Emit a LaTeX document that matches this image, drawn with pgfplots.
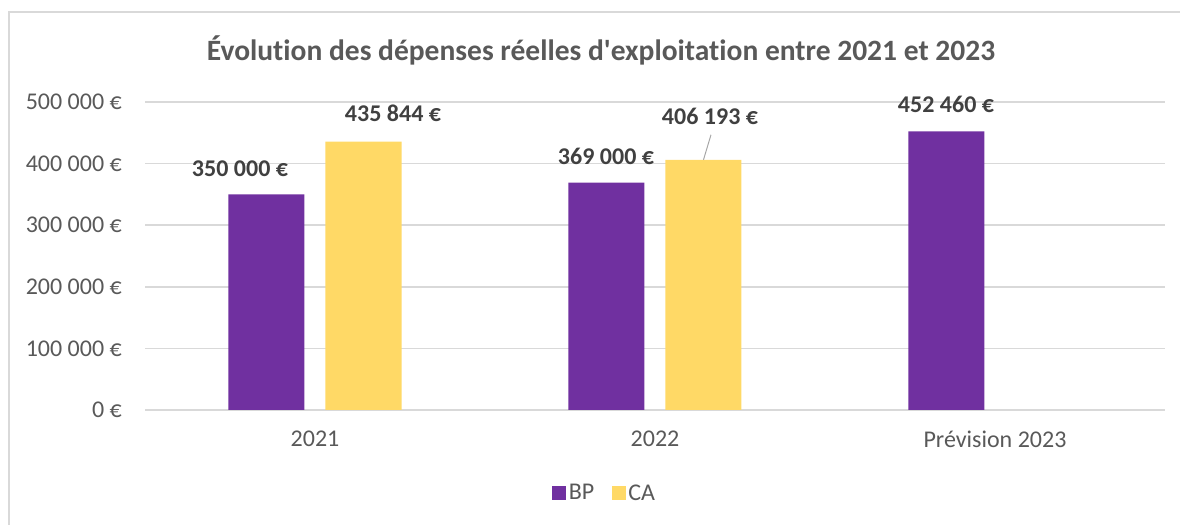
\documentclass[border=0pt]{standalone}
\usepackage{pgfplots}
\pgfplotsset{compat=1.18}
\usepackage{fontspec}
\setmainfont{Carlito}[Ligatures={NoCommon}]

\definecolor{bpcol}{HTML}{7030A0}
\definecolor{cacol}{HTML}{FFD966}
\definecolor{txtcol}{HTML}{595959}
\definecolor{lblcol}{HTML}{404040}
\definecolor{gridcol}{HTML}{D9D9D9}

\begin{document}
\begin{tikzpicture}[x=1bp, y=1bp,
  dl/.style={text=lblcol, font=\bfseries\fontsize{24bp}{29bp}\selectfont, inner sep=0pt, anchor=center}]
\path[use as bounding box] (0,0) rectangle (1180,525);
\draw[gridcol, line width=1.5bp] (9,0) -- (9,513) -- (1180,513);
\node[text=txtcol, font=\bfseries\fontsize{29.5bp}{34bp}\selectfont] at (601,475)
  {Évolution des dépenses réelles d\textquotesingle exploitation entre 2021 et 2023};

\begin{axis}[
  at={(145bp,115bp)}, anchor=south west,
  scale only axis, width=1020bp, height=308bp,
  xmin=-0.5, xmax=2.5, ymin=0, ymax=500000,
  ybar, bar width=76bp,
  axis line style={draw=none},
  major tick length=0pt,
  xtick={0,1,2}, xticklabels={2021,2022,Prévision 2023},
  ytick={0,100000,200000,300000,400000,500000},
  yticklabels={0 €,100 000 €,200 000 €,300 000 €,400 000 €,500 000 €},
  scaled y ticks=false,
  ymajorgrids, grid style={gridcol, line width=1.5bp},
  tick label style={text=txtcol, font=\fontsize{24bp}{29bp}\selectfont},
  yticklabel style={anchor=east, inner sep=0pt, xshift=-23bp},
  xticklabel style={anchor=north, inner sep=0pt, yshift=-21bp},
  legend columns=2,
  legend style={at={(0.5,0)}, anchor=center, xshift=-50bp, yshift=-83bp, draw=none, fill=none,
    text=txtcol, font=\fontsize{24bp}{29bp}\selectfont,
    nodes={inner sep=2.5bp},
    /tikz/every even column/.append style={column sep=15bp}},
  legend image code/.code={\path[#1] (0bp,-7bp) rectangle (14bp,7bp);},
  clip=false,
]
\addplot[fill=bpcol, draw=none, bar shift=-48.5bp] coordinates {(0,350000) (1,369000) (2,452460)};
\addlegendentry{BP}
\addplot[fill=cacol, draw=none, bar shift=48.5bp] coordinates {(0,435844) (1,406193)};
\addlegendentry{CA}

\node[dl] at ([xshift=-75bp, yshift=26bp]axis cs:0,350000) {350 000 €};
\node[dl] at ([xshift=78bp, yshift=28bp]axis cs:0,435844) {435 844 €};
\node[dl] at ([xshift=-49bp, yshift=26bp]axis cs:1,369000) {369 000 €};
\node[dl] at ([xshift=55bp, yshift=43bp]axis cs:1,406193) {406 193 €};
\node[dl] at ([xshift=-49bp, yshift=27bp]axis cs:2,452460) {452 460 €};
\draw[gray!70, line width=1bp] ([xshift=48.5bp]axis cs:1,406193) -- ++(7.5bp,25bp);
\end{axis}
\end{tikzpicture}
\end{document}
